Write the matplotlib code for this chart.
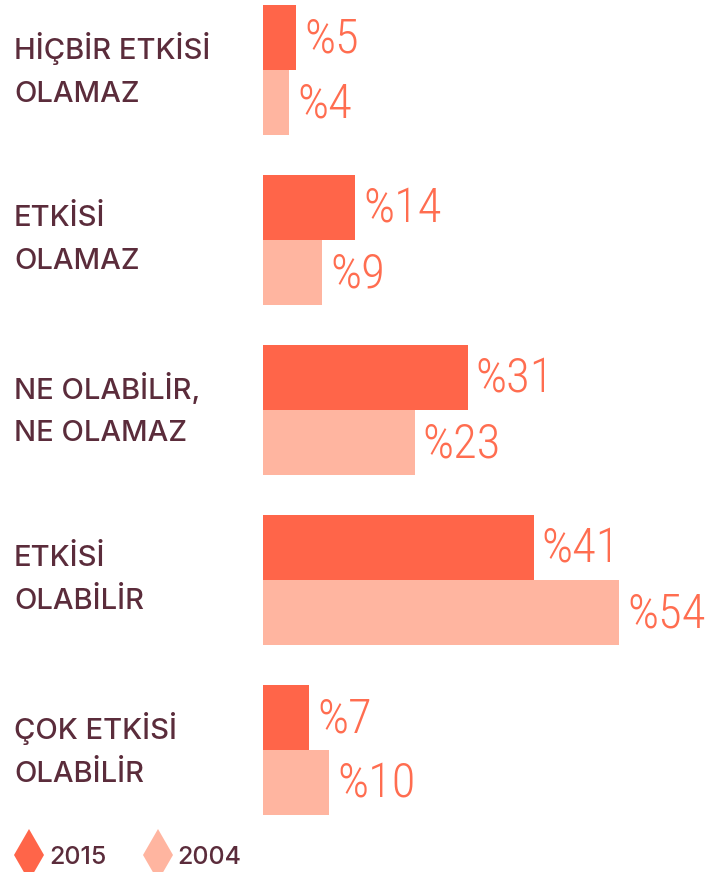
import matplotlib
matplotlib.use("Agg")
import matplotlib.pyplot as plt
from matplotlib.lines import Line2D
import matplotlib.transforms as mtrans
from matplotlib import font_manager

categories = ["HİÇBİR ETKİSİ\nOLAMAZ", "ETKİSİ\nOLAMAZ", "NE OLABİLİR,\nNE OLAMAZ",
              "ETKİSİ\nOLABİLİR", "ÇOK ETKİSİ\nOLABİLİR"]
series_names = ["2015", "2004"]
values_2015 = [5, 14, 31, 41, 7]
values_2004 = [4, 9, 23, 54, 10]

c2015 = "#ff6549"
c2004 = "#ffb5a0"
label_color = "#5b2c3b"
value_color = "#ff6d50"

names = {f.name for f in font_manager.fontManager.ttflist}
narrow = [n for n in ["Liberation Sans Narrow", "DejaVu Sans Condensed", "Roboto Condensed"] if n in names]
value_family = narrow + ["DejaVu Sans"]
label_family = ["Inter", "Open Sans", "DejaVu Sans"]

W, H = 710, 872
fig = plt.figure(figsize=(W / 100, H / 100), dpi=100)
left_px = 263
ax = fig.add_axes([left_px / W, 0, 1 - left_px / W, 1])
px_per_unit = 6.6
ax.set_xlim(0, (W - left_px) / px_per_unit)
ax.set_ylim((H - 70) / 170, -70 / 170)
ax.axis("off")

bh = 65 / 170
for i, (v1, v2) in enumerate(zip(values_2015, values_2004)):
    ax.barh(i - bh / 2, v1, height=bh, color=c2015, linewidth=0)
    ax.barh(i + bh / 2, v2, height=bh, color=c2004, linewidth=0)
    ax.text(v1 + 1.2, i - bh / 2 + 0.01, f"%{v1}", va="center", ha="left",
            fontsize=35, color=value_color, family=value_family, fontweight="light")
    ax.text(v2 + 1.2, i + bh / 2 + 0.01, f"%{v2}", va="center", ha="left",
            fontsize=35, color=value_color, family=value_family, fontweight="light")

trans = mtrans.blended_transform_factory(fig.transFigure, ax.transData)
for i, cat in enumerate(categories):
    ax.text(14 / W, i + 0.0, cat, transform=trans, ha="left", va="center",
            fontsize=21, color=label_color, family=label_family,
            fontweight="medium", linespacing=1.75)

handles = [Line2D([], [], marker="d", linestyle="none", markersize=26, color=c, markeredgewidth=0)
           for c in (c2015, c2004)]
leg = fig.legend(handles, series_names, loc="lower left", bbox_to_anchor=(-0.012, -0.022),
                 ncol=2, frameon=False, handletextpad=0.2, columnspacing=1.45,
                 prop={"family": label_family, "size": 18, "weight": "medium"},
                 handlelength=1.2)
for t in leg.get_texts():
    t.set_color(label_color)

fig.savefig("out.png", dpi=100)
